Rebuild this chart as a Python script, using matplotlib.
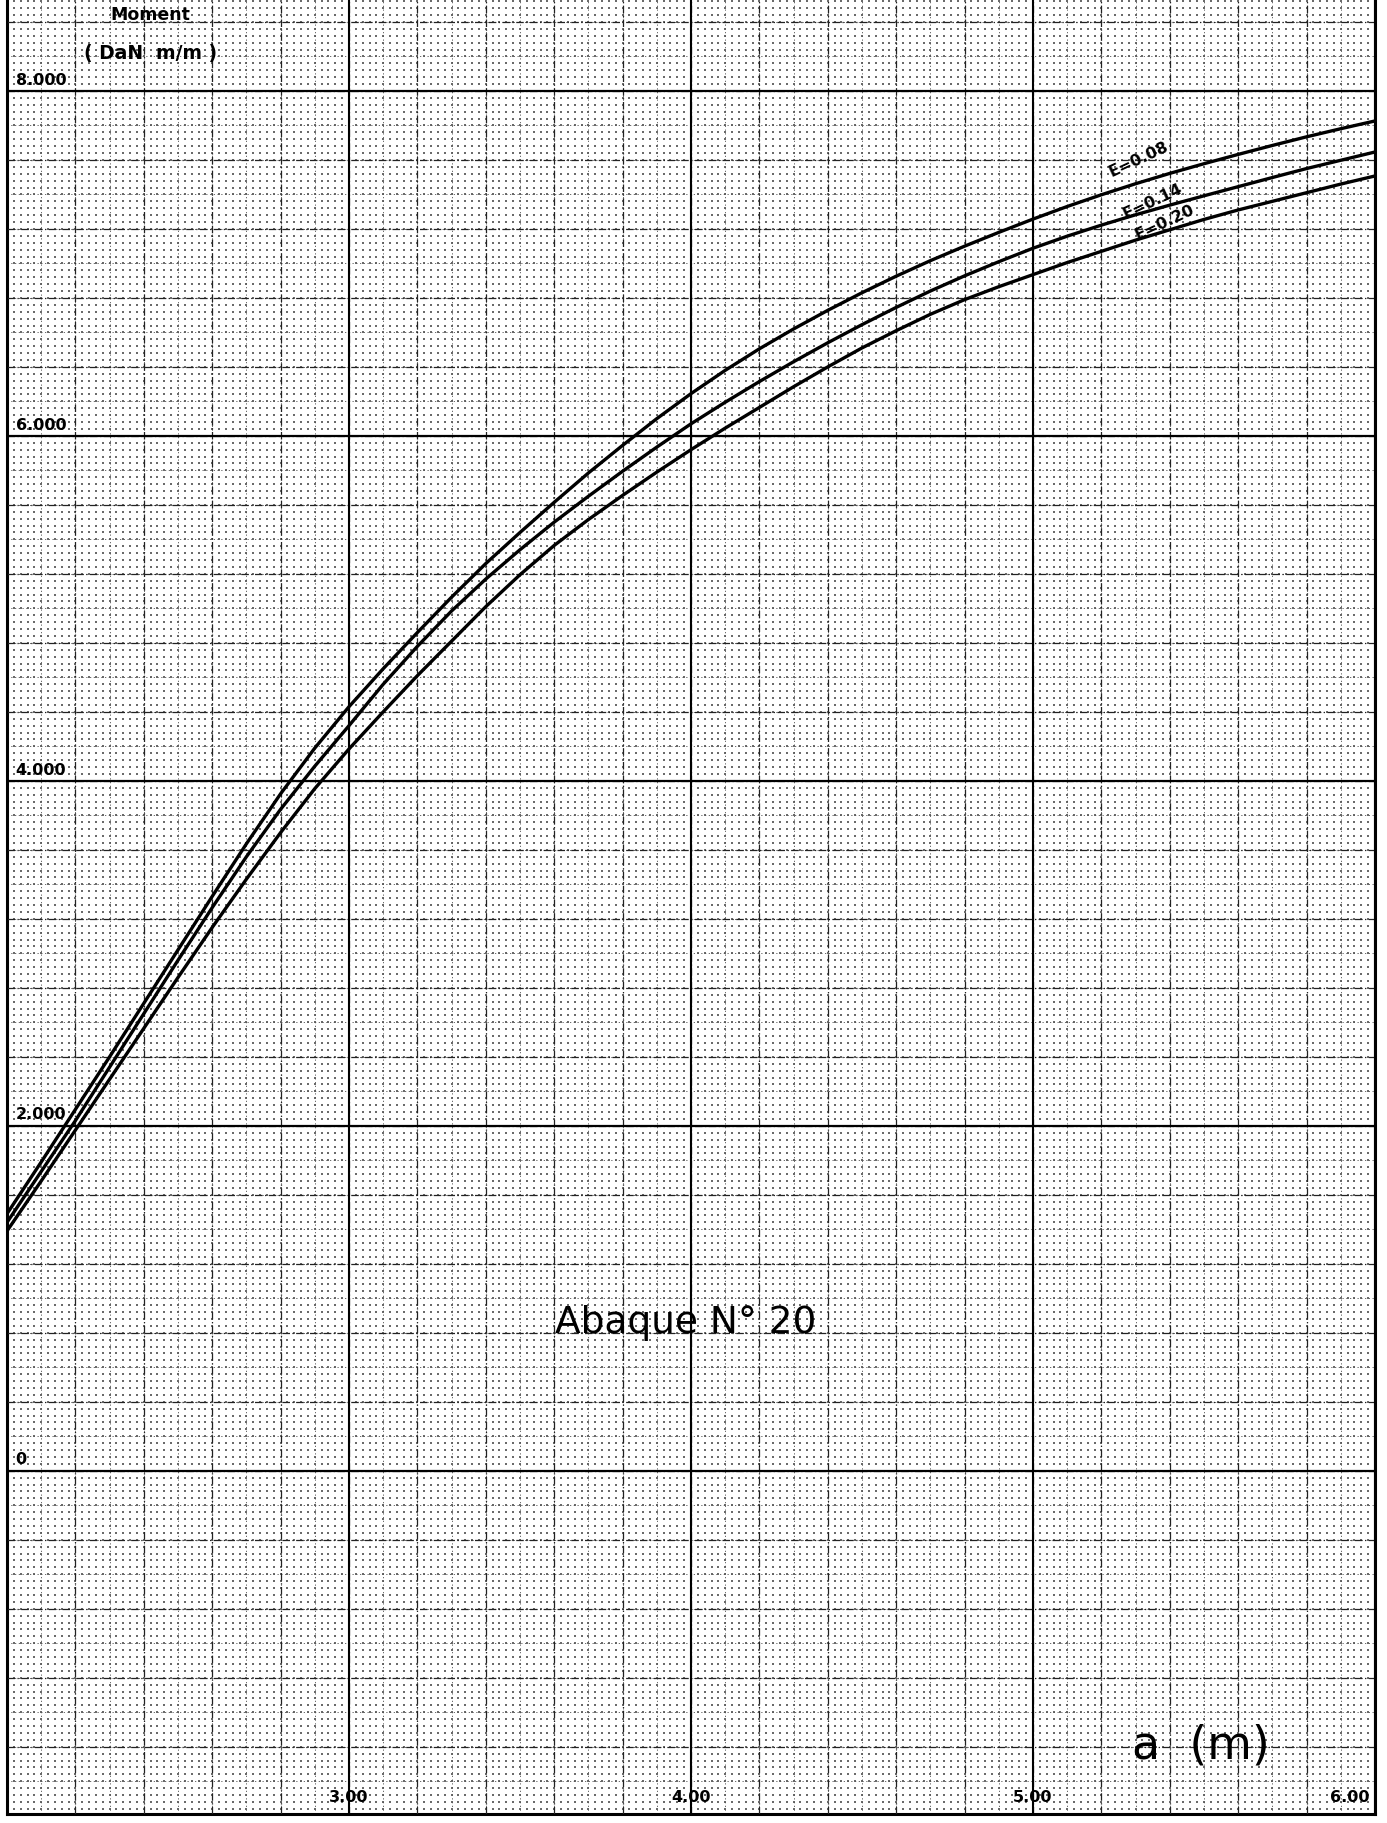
import numpy as np
import matplotlib
matplotlib.use("Agg")
import matplotlib.pyplot as plt

# span a (m)
a_m = [2.0, 2.1, 2.2, 2.3, 2.4, 2.5, 2.6, 2.7, 2.8, 2.9,
       3.0, 3.1, 3.2, 3.3, 3.4, 3.5, 3.6, 3.7, 3.8, 3.9,
       4.0, 4.1, 4.2, 4.3, 4.4, 4.5, 4.6, 4.7, 4.8, 4.9,
       5.0, 5.1, 5.2, 5.3, 5.4, 5.5, 5.6, 5.7, 5.8, 5.9, 6.0]

# moment (DaN m/m) for each eccentricity
moment_e008 = [1490, 1790, 2095, 2400, 2710, 3020, 3330, 3635, 3925, 4190,
               4430, 4650, 4860, 5065, 5260, 5440, 5615, 5785, 5945, 6100,
               6245, 6380, 6505, 6620, 6728, 6830, 6926, 7016, 7100, 7180,
               7257, 7330, 7398, 7462, 7522, 7578, 7632, 7684, 7734, 7781, 7826]
moment_e014 = [1440, 1735, 2030, 2340, 2650, 2960, 3265, 3560, 3835, 4085,
               4320, 4560, 4780, 4985, 5170, 5340, 5500, 5650, 5795, 5935,
               6070, 6195, 6315, 6430, 6540, 6645, 6745, 6840, 6928, 7010,
               7088, 7158, 7222, 7282, 7338, 7392, 7445, 7498, 7550, 7598, 7646]
moment_e020 = [1390, 1680, 1975, 2270, 2565, 2860, 3150, 3430, 3700, 3955,
               4185, 4400, 4610, 4810, 5010, 5195, 5365, 5515, 5655, 5790,
               5920, 6045, 6165, 6285, 6400, 6510, 6610, 6705, 6790, 6865,
               6935, 7005, 7070, 7135, 7195, 7255, 7310, 7360, 7410, 7460, 7507]

curve_labels = ["E=0.08", "E=0.14", "E=0.20"]
label_pos = [(5.31, 7610), (5.35, 7365), (5.385, 7245)]

y_tick_values = [0, 2000, 4000, 6000, 8000]
y_tick_labels = ["0", "2.000", "4.000", "6.000", "8.000"]
x_tick_values = [3.0, 4.0, 5.0, 6.0]
x_tick_labels = ["3.00", "4.00", "5.00", "6.00"]

XMIN, XMAX = 2.0, 6.0
YMIN, YMAX = -1990, 8533

fig = plt.figure(figsize=(13.87, 18.24), dpi=100)
ax = fig.add_axes([7 / 1387, 9 / 1824, 1368 / 1387, 1815 / 1824])
ax.set_xlim(XMIN, XMAX)
ax.set_ylim(YMIN, YMAX)
ax.set_xticks([])
ax.set_yticks([])

# millimetre-paper style grid
gx = np.arange(XMIN, XMAX + 1e-6, 0.02)
gy = np.arange(-2000, YMAX, 40)
GX, GY = np.meshgrid(gx, gy)
ax.scatter(GX.ravel(), GY.ravel(), s=0.8, marker="s", color="#6a6a6a",
           linewidths=0, zorder=1)

for xv in np.arange(XMIN, XMAX + 1e-6, 0.1):
    ax.axvline(xv, color="#555555", lw=0.6, ls=(0, (1.5, 3)), zorder=2)
for yv in np.arange(-2000, YMAX, 200):
    ax.axhline(yv, color="#555555", lw=0.6, ls=(0, (1.5, 3)), zorder=2)

for xv in np.arange(XMIN, XMAX + 1e-6, 0.2):
    ax.axvline(xv, color="#222222", lw=0.9, ls=(0, (6, 2, 1, 2)), zorder=3)
for yv in np.arange(-2000, YMAX, 400):
    ax.axhline(yv, color="#222222", lw=0.9, ls=(0, (6, 2, 1, 2)), zorder=3)

for xv in np.arange(XMIN, XMAX + 1e-6, 1.0):
    ax.axvline(xv, color="black", lw=1.5, zorder=4)
for yv in np.arange(-2000, YMAX, 2000):
    ax.axhline(yv, color="black", lw=1.6, zorder=4)

for side in ("left", "bottom", "right"):
    ax.spines[side].set_linewidth(2.2)
ax.spines["top"].set_visible(False)

# curves
for series in (moment_e008, moment_e014, moment_e020):
    ax.plot(a_m, series, color="black", lw=2.4, solid_capstyle="round", zorder=6)

for txt, (lx, ly) in zip(curve_labels, label_pos):
    ax.text(lx, ly, txt, rotation=25, ha="center", va="center",
            fontsize=11.5, fontweight="bold", zorder=7, rotation_mode="anchor")

# axis graduations written on the sheet
for v, lab in zip(y_tick_values, y_tick_labels):
    ax.text(2.025, v + 25, lab, ha="left", va="bottom", fontsize=11.5,
            fontweight="bold", zorder=7)
for v, lab in zip(x_tick_values, x_tick_labels):
    if v >= XMAX:
        ax.text(v - 0.015, -1890, lab, ha="right", va="center", fontsize=11.5,
                fontweight="bold", zorder=7)
    else:
        ax.text(v, -1890, lab, ha="center", va="center", fontsize=11.5,
                fontweight="bold", zorder=7)

ax.text(2.42, 8445, "Moment", ha="center", va="center", fontsize=12.5,
        fontweight="bold", zorder=7)
ax.text(2.42, 8225, "( DaN  m/m )", ha="center", va="center", fontsize=13.5,
        fontweight="bold", zorder=7)

ax.text(3.985, 864, "Abaque N° 20", ha="center", va="center", fontsize=27,
        zorder=7)
ax.text(5.49, -1590, "a  (m)", ha="center", va="center", fontsize=33,
        zorder=7)

fig.savefig("out.png", dpi=100, facecolor="white")
